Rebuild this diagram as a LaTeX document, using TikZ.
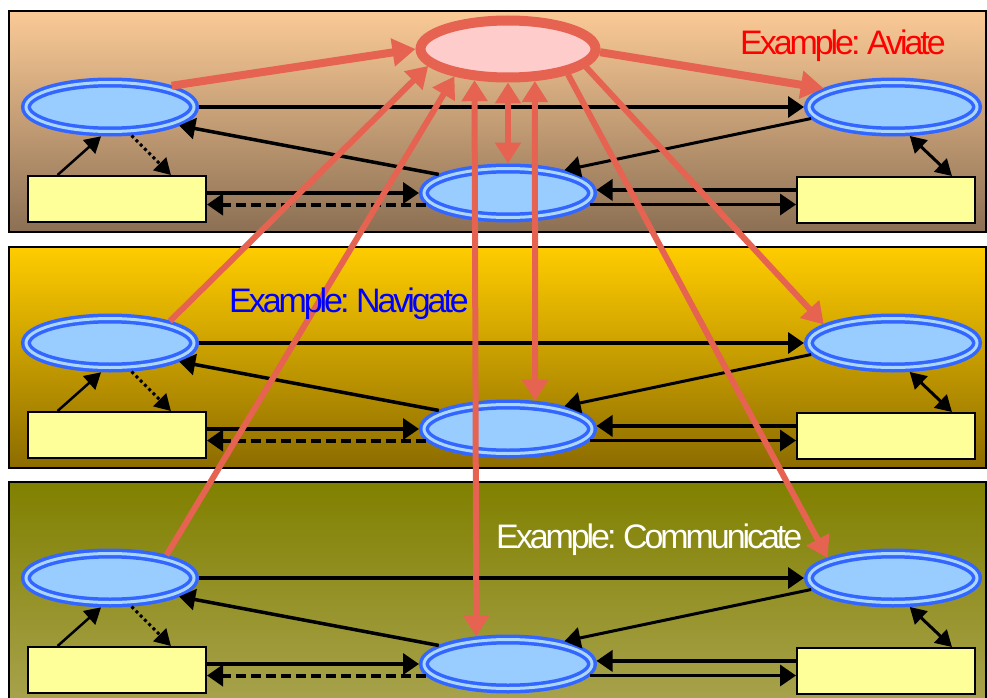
\documentclass[tikz,border=0pt]{standalone}
\usepackage{fontspec}
\setmainfont{Liberation Sans}
\newfontfamily\lblfont[LetterSpace=-9,WordSpace=0.7]{Liberation Sans}
\usetikzlibrary{shapes.geometric,arrows.meta}
\definecolor{pAtop}{RGB}{250,202,150}
\definecolor{pAbot}{RGB}{140,112,84}
\definecolor{pBtop}{RGB}{255,204,0}
\definecolor{pBbot}{RGB}{140,108,0}
\definecolor{pCtop}{RGB}{128,128,0}
\definecolor{pCbot}{RGB}{168,163,78}
\definecolor{ellblue}{RGB}{51,102,255}
\definecolor{ellfill}{RGB}{153,204,255}
\definecolor{ellgap}{RGB}{170,214,255}
\definecolor{redc}{RGB}{229,99,80}
\definecolor{pinkc}{RGB}{255,204,204}
\definecolor{yellowc}{RGB}{255,255,153}
\tikzset{
  panelborder/.style={draw=black, line width=2.5pt},
  blueell/.style={ellipse, draw=ellblue, line width=3.5pt, double=ellgap, double distance=3pt,
    fill=ellfill, minimum width=168pt, minimum height=49pt, inner sep=0pt, outer sep=5pt},
  goalell/.style={ellipse, draw=redc, line width=10pt, fill=pinkc, minimum width=175pt,
    minimum height=57pt, inner sep=0pt, outer sep=5pt},
  ybox/.style={rectangle, draw=black, line width=2pt, fill=yellowc, minimum width=178pt,
    minimum height=46pt, inner sep=0pt, outer sep=1pt},
  blk/.style={draw=black, line width=3.5pt, >={Triangle[length=16pt,width=21pt]}},
  blksm/.style={draw=black, line width=2.5pt, >={Triangle[length=16pt,width=18pt]}},
  redarr/.style={draw=redc, line width=6pt, >={Triangle[length=21pt,width=25pt]}},
  redthick/.style={draw=redc, line width=8pt, >={Triangle[length=23pt,width=27pt]}},
  lbl/.style={anchor=base west, inner sep=0pt, font=\lblfont\fontsize{34}{40}\selectfont}
}
\begin{document}
\begin{tikzpicture}[x=1pt,y=-1pt]
\useasboundingbox (0,0) rectangle (987,698);
% panels
\shade[top color=pAtop, bottom color=pAbot] (9,11) rectangle (986,232);
\draw[panelborder] (9,11) rectangle (986,232);
\shade[top color=pBtop, bottom color=pBbot] (9,247) rectangle (986,468);
\draw[panelborder] (9,247) rectangle (986,468);
\shade[top color=pCtop, bottom color=pCbot] (9,482) rectangle (986,705);
\draw[panelborder] (9,482) rectangle (986,705);
% nodes and black connectors per panel
\foreach \p/\dy in {t/0,m/236,b/471}{
  \node[blueell] (L\p) at (110,107+\dy) {};
  \node[blueell] (C\p) at (508,193+\dy) {};
  \node[blueell] (R\p) at (893,107+\dy) {};
  \node[ybox] (BL\p) at (117,199+\dy) {};
  \node[ybox] (BR\p) at (886,200+\dy) {};
  \draw[blk, ->] (L\p.east) -- (R\p.west);
  \draw[blk, ->] (C\p.165) -- (L\p.-15);
  \draw[blk, line width=3pt, ->] (R\p.188) -- (C\p.22);
  \draw[blksm, ->] (BL\p.158) -- (L\p.253);
  \draw[blksm, line width=3pt, ->, dash pattern=on 3pt off 3pt] (L\p.-53) -- (BL\p.24);
  \draw[blk, ->] (BL\p.east |- C\p.west) -- (C\p.west);
  \draw[blk, line width=4pt, ->, dash pattern=on 10pt off 5pt] (C\p.188) -- (C\p.188 -| BL\p.east);
  \draw[blk, ->] (BR\p.west |- C\p.2) -- (C\p.2);
  \draw[blk, ->] (C\p.-8) -- (C\p.-8 -| BR\p.west);
  \draw[blksm, line width=3pt, <->] (R\p.-60) -- (BR\p.20.5);
}
% goal ellipse
\node[goalell] (G) at (508,49) {};
% red connectors
\draw[redthick, ->] (Lt.19) -- (G.180);
\draw[redarr, ->] (Lm.20) -- (G.192);
\draw[redarr, ->] (Lb.22) -- (G.207);
\draw[redarr, <->] (G.south) -- (Ct.north);
\draw[redarr, <->] (G.310.2) -- (Cm.46.6);
\draw[redarr, <->] (G.223.5) -- (Cb.139.8);
\draw[redthick, ->] (G.-2) -- (Rt.165);
\draw[redarr, ->] (G.-13) -- (Rm.165);
\draw[redarr, ->] (G.-23) -- (Rb.163);
% labels
\node[lbl, text=red] (la) at (740,55) {Example: Aviate};
\node[lbl, text=blue] (ln) at (229,312) {Example: Navigate};
\node[lbl, text=white] (lc) at (496,548) {Example: Communicate};
\end{tikzpicture}
\end{document}
